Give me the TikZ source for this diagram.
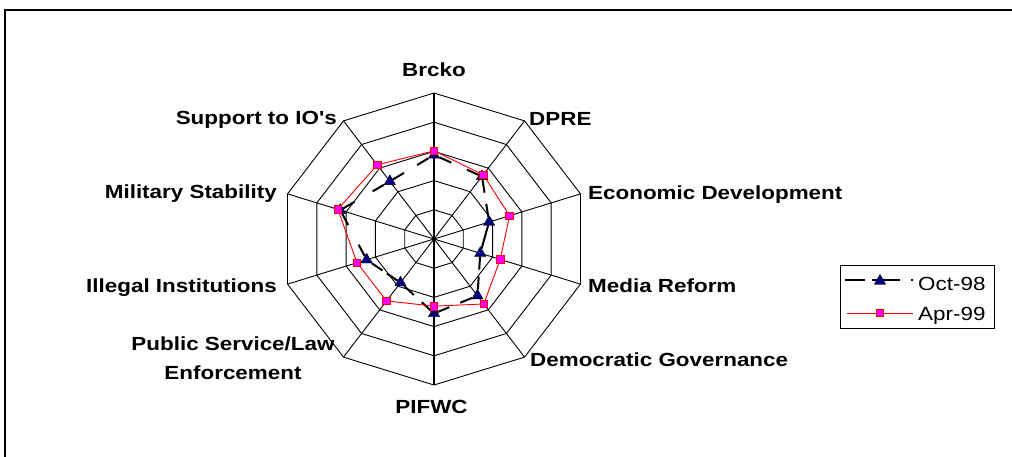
\documentclass[tikz,border=0pt]{standalone}
\usepackage{fontspec}
\setmainfont{Liberation Sans}[FakeStretch=1.18, Ligatures=TeXOff]
\usetikzlibrary{shapes.geometric}
\definecolor{navy}{RGB}{0,0,128}
\definecolor{mag}{RGB}{255,0,255}
\begin{document}
\begin{tikzpicture}[x=1pt,y=-1pt,
  lab/.style={font=\fontsize{19}{29}\selectfont\bfseries, inner sep=0pt},
  legtext/.style={font=\fontsize{19}{23}\selectfont, inner sep=0pt},
  gridline/.style={black, line width=0.9pt},
  tri/.style={regular polygon, regular polygon sides=3, minimum size=13pt, inner sep=0pt, fill=navy, draw=black, line width=0.4pt},
  sq/.style={rectangle, minimum size=7.5pt, inner sep=0pt, fill=mag, draw=red, line width=0.8pt},
  octline/.style={black, line width=2pt, dash pattern=on 13pt off 400pt},
  aprline/.style={red, line width=0.9pt}]
\useasboundingbox (0,0) rectangle (1012,457);
\fill[white] (0,0) rectangle (1012,457);
\draw[line width=2pt] (4.5,457) -- (4.5,10.5) -- (1012,10.5);

\begin{scope}[shift={(434,239)}, x=30.8pt, y=29.2pt]
  \foreach \r in {1,...,5}
    \draw[gridline] (90:\r) \foreach \a in {54,18,-18,-54,-90,-126,-162,-198,-234} { -- (\a:\r) } -- cycle;
  \foreach \a in {54,18,-18,-54,-126,-162,-198,-234}
    \draw[gridline] (0,0) -- (\a:5);
  \draw[black, line width=1.4pt] (90:5) -- (-90:5);
  % Oct-98
  \foreach \a/\v/\n in {90/2.88/1, 54/2.65/2, 18/1.88/3, -18/1.58/4, -54/2.4/5, -90/2.55/6, -126/1.85/7, -162/2.3/8, -198/3.2/9, -234/2.44/10}
    \node[tri] (o\n) at (\a:\v) {};
  \foreach \i/\j in {1/2,2/3,3/4,4/5,5/6,6/7,7/8,8/9,9/10,10/1} {
    \draw[octline] (o\i) -- (o\j);
    \draw[octline] (o\j) -- (o\i);
  }
  % Apr-99
  \foreach \a/\v/\n in {90/3.02/1, 54/2.72/2, 18/2.58/3, -18/2.26/4, -54/2.75/5, -90/2.3/6, -126/2.62/7, -162/2.63/8, -198/3.28/9, -234/3.14/10}
    \coordinate (p\n) at (\a:\v);
  \draw[aprline] (p1) -- (p2) -- (p3) -- (p4) -- (p5) -- (p6) -- (p7) -- (p8) -- (p9) -- (p10) -- cycle;
  \foreach \n in {1,...,10}
    \node[sq] (a\n) at (p\n) {};
\end{scope}

\node[lab, anchor=base] (lbrcko) at (434,77) {Brcko};
\node[lab, anchor=base west] (ldpre) at (529,126) {DPRE};
\node[lab, anchor=base west] (lecon) at (588,200) {Economic Development};
\node[lab, anchor=base west] (lmedia) at (588,292) {Media Reform};
\node[lab, anchor=base west] (ldem) at (530,366) {Democratic Governance};
\node[lab, anchor=base] (lpifwc) at (431.5,413) {PIFWC};
\node[lab, align=center, anchor=north] (lpub) at (233,337) {Public Service/Law\\Enforcement};
\node[lab, anchor=base east] (lill) at (277,292) {Illegal Institutions};
\node[lab, anchor=base east] (lmil) at (277,199) {Military Stability};
\node[lab, anchor=base east] (lsup) at (337,125) {Support to IO's};

% legend
\node[draw, line width=1.2pt, minimum width=154pt, minimum height=63pt, inner sep=0pt, anchor=north west] (leg) at (840,265) {};
\coordinate (l1a) at (845,280);
\coordinate (l1b) at (913,280);
\draw[black, line width=2pt, dash pattern=on 20pt off 7pt on 28pt off 11pt on 2pt] (l1a) -- (l1b);
\node[tri] (lt) at (880,281) {};
\node[legtext, anchor=base west] (loct) at (918,290) {Oct-98};
\coordinate (l2a) at (847,313);
\coordinate (l2b) at (913,313);
\draw[aprline] (l2a) -- (l2b);
\node[sq] (ls) at (880,313) {};
\node[legtext, anchor=base west] (lapr) at (918,320) {Apr-99};
\end{tikzpicture}
\end{document}
